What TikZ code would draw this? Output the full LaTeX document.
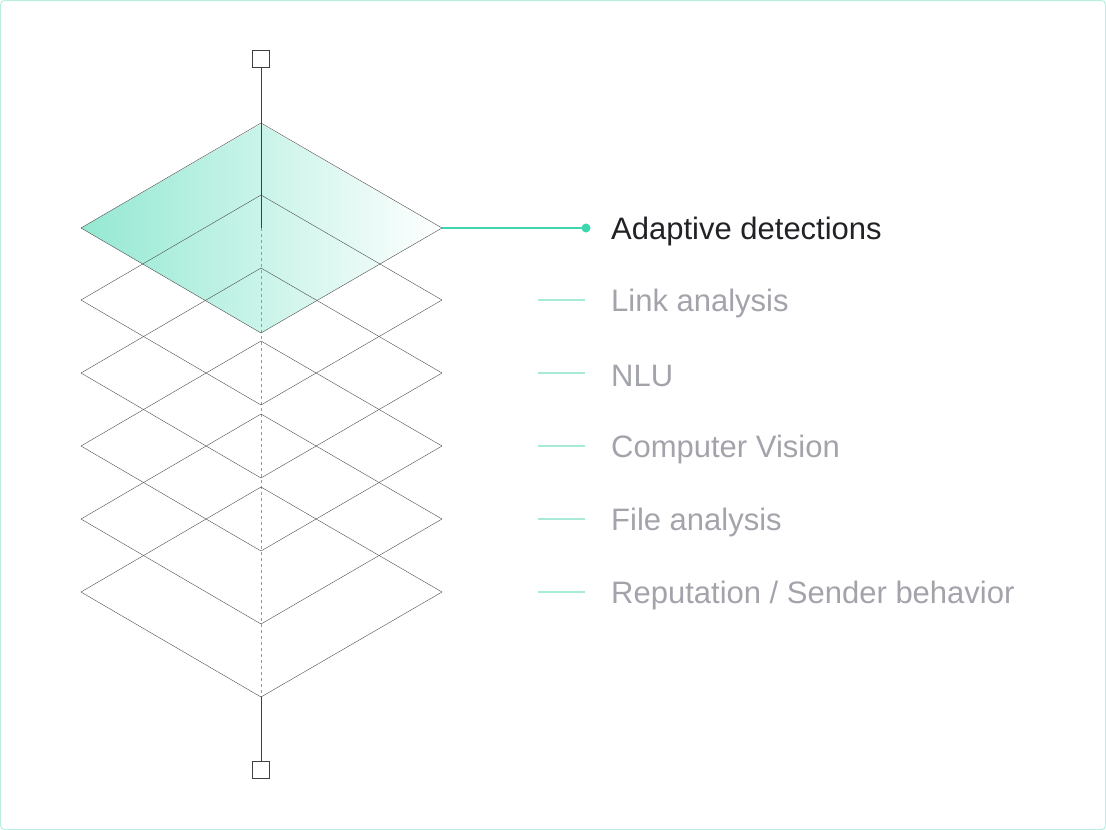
\documentclass[tikz,border=0pt]{standalone}
\usepackage{fontspec}
\setmainfont{Liberation Sans}
\definecolor{tealmain}{HTML}{3DD6AE}
\definecolor{teallight}{HTML}{A8EAD8}
\definecolor{greytext}{HTML}{A3A3AB}
\definecolor{darktext}{HTML}{222226}
\tikzset{
  layer/.style={draw=black!70, line width=0.4pt},
  label/.style={anchor=west, inner sep=0pt, font=\fontsize{31}{34}\selectfont, text=greytext},
  tick/.style={draw=teallight, line width=1.3pt},
  endbox/.style={draw=black!75, fill=white, minimum size=17pt, inner sep=0pt, line width=0.6pt}
}
\begin{document}
\begin{tikzpicture}[x=1pt,y=-1pt]
\useasboundingbox (0,0) rectangle (1106,830);
\draw[teallight!80, line width=1pt, rounded corners=4pt] (0.5,0.5) rectangle (1105.5,829.5);

% top layer fill
\shade[shading=axis, shading angle=120, left color=tealmain!55, right color=white] (81,228) -- (261,124) -- (442,228) -- (261,333) -- cycle;

% axis
\node[endbox] (topbox) at (261,59) {};
\node[endbox] (botbox) at (261,770) {};
\coordinate (axtop) at (261,228);
\coordinate (axbot) at (261,697);
\draw[black!75] (topbox) -- (axtop);
\draw[black!40, dashed] (axtop) -- (axbot);
\draw[black!75] (axbot) -- (botbox);

% layers
\foreach \y in {228,300,373,446,519,592}
  \draw[layer] (81,\y) -- (261,\y-105) -- (442,\y) -- (261,\y+105) -- cycle;

% labels
\node[label, text=darktext] (l1) at (611,231) {Adaptive detections};
\coordinate (dot) at (586,228);
\draw[tealmain, line width=1.4pt] (442,228) -- (dot);
\fill[tealmain] (dot) circle (4.5);
\foreach \y/\t in {300/{Link analysis}, 373/{NLU}, 446/{Computer Vision}, 519/{File analysis}, 592/{Reputation / Sender behavior}}{
  \node[label] (lab\y) at (611,\y+3) {\t};
  \draw[tick] (538,\y) -- (585,\y);
}
\end{tikzpicture}
\end{document}
